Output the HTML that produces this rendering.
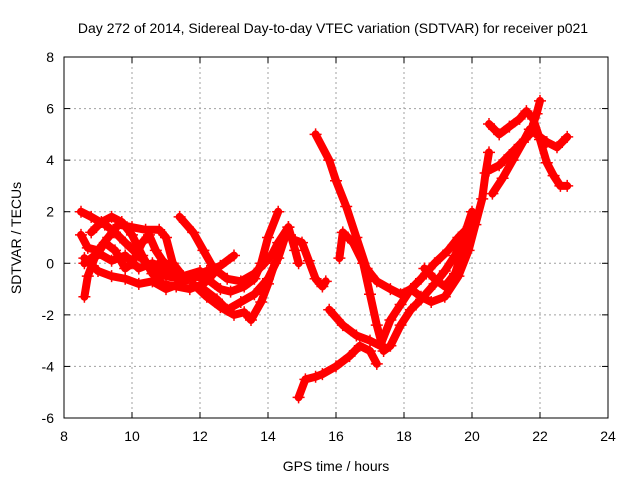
<!DOCTYPE html>
<html><head><meta charset="utf-8"><style>
body{margin:0;background:#fff}
svg{display:block;font-family:"Liberation Sans",sans-serif}
</style></head><body>
<svg id="chart" width="640" height="480">
<text x="333" y="33" text-anchor="middle" font-size="14">Day 272 of 2014, Sidereal Day-to-day VTEC variation (SDTVAR) for receiver p021</text>
<text x="336" y="471" text-anchor="middle" font-size="14">GPS time / hours</text>
<text transform="translate(21,238) rotate(-90)" text-anchor="middle" font-size="14">SDTVAR / TECUs</text>
<g id="grid"></g><g id="ticks"></g><g id="series"></g>
<rect x="64" y="57" width="544" height="361" fill="none" stroke="#000" stroke-width="1"/>
</svg>
<script>
const xTicks=[8,10,12,14,16,18,20,22,24];
const yTicks=[-6,-4,-2,0,2,4,6,8];
const T1=[[15.4,5.0],[15.8,4.0],[16.0,3.2],[16.3,2.2],[16.6,1.0],[16.9,-0.2],[17.2,-0.7],[17.6,-1.0],[17.9,-1.2],[18.2,-1.0],[18.5,-1.3],[18.8,-1.5],[19.2,-1.3],[19.6,-0.5],[19.9,0.5],[20.1,1.5],[20.3,2.5],[20.4,3.5],[20.5,4.3]];
const T2=[[16.1,0.2],[16.2,1.2],[16.5,0.8],[16.8,0.0],[17.0,-1.2],[17.2,-2.4],[17.4,-3.4],[17.6,-3.2],[17.9,-2.4],[18.2,-1.8],[18.5,-1.4],[18.9,-0.8],[19.2,-0.3],[19.5,0.3],[19.8,1.2],[20.0,2.0]];
const T3=[[15.8,-1.8],[16.2,-2.4],[16.6,-2.8],[17.0,-3.0],[17.3,-3.2],[17.6,-2.2],[17.9,-1.6],[18.2,-1.0],[18.5,-0.6],[18.9,0.0],[19.3,0.5],[19.6,1.0],[19.9,1.4]];
const T4=[[14.9,-5.2],[15.1,-4.5],[15.4,-4.4],[15.6,-4.3],[16.0,-4.0],[16.4,-3.6],[16.7,-3.2],[17.0,-3.4],[17.2,-3.9]];
const T5=[[20.5,3.6],[20.8,3.8],[21.1,4.2],[21.4,4.6],[21.7,5.0],[21.9,5.8],[22.0,6.3]];
const T6=[[20.6,2.7],[20.9,3.3],[21.2,4.0],[21.5,4.7],[21.7,5.2],[22.0,4.9],[22.2,4.7],[22.5,4.5],[22.8,4.9]];
const T7=[[20.5,5.4],[20.8,5.0],[21.1,5.3],[21.4,5.6],[21.6,5.9],[21.8,5.6],[22.0,4.8],[22.2,3.9],[22.4,3.4],[22.6,3.0],[22.8,3.0]];
const T8=[[14.8,0.9],[15.0,0.8],[15.2,0.1],[15.4,-0.6],[15.6,-0.9],[15.7,-0.7]];
const T9=[[18.6,-0.2],[18.9,-0.6],[19.2,-0.9],[19.5,-0.4],[19.7,0.4],[19.9,1.0],[20.1,1.8]];
const L1=[[8.5,2.0],[8.8,1.8],[9.2,1.5],[9.5,1.2],[9.8,0.8],[10.2,0.3],[10.6,-0.2],[11.0,-0.5],[11.4,-0.6],[11.8,-0.5],[12.2,-0.3],[12.6,-0.1],[13.0,0.3]];
const L2=[[8.6,0.2],[9.0,-0.3],[9.4,-0.5],[9.8,-0.6],[10.2,-0.8],[10.6,-0.7],[11.0,-1.0],[11.4,-0.8],[11.8,-0.5],[12.2,-0.6],[12.6,-1.0],[12.9,-1.1],[13.3,-0.9],[13.6,-0.6],[13.8,0.0],[14.0,1.0],[14.3,2.0]];
const L3=[[8.5,1.1],[8.7,0.6],[9.0,0.5],[9.3,1.0],[9.6,1.5],[10.0,1.4],[10.4,1.3],[10.8,1.3],[11.0,1.0],[11.2,0.0],[11.5,-0.5],[11.8,-0.6]];
const L4=[[11.4,1.8],[11.8,1.2],[12.1,0.5],[12.4,-0.2],[12.8,-0.6],[13.2,-0.7],[13.6,-0.4],[13.9,0.0],[14.1,0.3],[14.3,0.8],[14.6,1.4],[14.8,0.5],[14.9,0.0]];
const L5=[[12.1,-1.0],[12.5,-1.4],[12.8,-1.8],[13.2,-1.5],[13.6,-1.2],[14.0,-0.6],[14.3,0.2],[14.5,1.0],[14.6,1.4]];
const L6=[[11.8,-0.8],[12.2,-1.3],[12.6,-1.7],[13.0,-2.0],[13.3,-1.9],[13.5,-2.2],[13.8,-1.5],[14.0,-0.8],[14.2,0.0]];
const L7=[[8.6,-1.3],[8.7,-0.5],[8.9,0.2],[9.2,0.8],[9.5,0.5],[9.8,-0.2],[10.0,0.0],[10.3,0.8],[10.5,1.1],[10.7,0.5],[10.9,0.1],[11.2,-0.3]];
const L8=[[8.6,0.0],[9.0,0.4],[9.4,0.1],[9.8,0.3],[10.2,-0.2],[10.6,0.0],[11.0,-0.2],[11.5,-0.5],[12.0,-0.3]];
const L9=[[8.8,1.2],[9.1,1.6],[9.4,1.8],[9.7,1.6],[10.0,1.1],[10.3,0.3],[10.6,-0.4],[10.9,-0.8],[11.3,-0.9],[11.7,-1.0],[12.1,-0.8],[12.4,-0.4]];
const tracks=[T1,T2,T3,T4,T5,T6,T7,T8,T9,L1,L2,L3,L4,L5,L6,L7,L8,L9];
const NS='http://www.w3.org/2000/svg';
const X0=64,X1=608,Y0=418,Y1=57;
const sx=h=>X0+(h-8)/(24-8)*(X1-X0);
const sy=v=>Y0-(v+6)/(8+6)*(Y0-Y1);
const grid=document.getElementById('grid'),ticks=document.getElementById('ticks'),ser=document.getElementById('series');
function mk(tag,at,parent){const e=document.createElementNS(NS,tag);for(const k in at)e.setAttribute(k,at[k]);parent.appendChild(e);return e;}
xTicks.forEach(t=>{const x=sx(t);
 if(t>8&&t<24){const g=mk('line',{x1:x,x2:x,y1:Y1,y2:Y0,stroke:'#a0a0a0','stroke-dasharray':'2,3'},grid);
 
 }
 mk('line',{x1:x,x2:x,y1:Y0,y2:Y0-6,stroke:'#000'},ticks);mk('line',{x1:x,x2:x,y1:Y1,y2:Y1+6,stroke:'#000'},ticks);
 const l=mk('text',{x:x,y:Y0+23,'text-anchor':'middle','font-size':14},ticks);l.textContent=t;
 
 });
yTicks.forEach(t=>{const y=sy(t);
 if(t>-6&&t<8){const g=mk('line',{x1:X0,x2:X1,y1:y,y2:y,stroke:'#a0a0a0','stroke-dasharray':'2,3'},grid);
 
 }
 mk('line',{x1:X0,x2:X0+6,y1:y,y2:y,stroke:'#000'},ticks);mk('line',{x1:X1,x2:X1-6,y1:y,y2:y,stroke:'#000'},ticks);
 const l=mk('text',{x:X0-10,y:y+5,'text-anchor':'end','font-size':14},ticks);l.textContent=t;
 
 });
tracks.forEach(tr=>{
 const p=mk('polyline',{points:tr.map(d=>sx(d[0])+','+sy(d[1])).join(' '),fill:'none',stroke:'#ff0000','stroke-width':8,'stroke-linejoin':'round','stroke-linecap':'round'},ser);
 
 
 tr.forEach(d=>{const x=sx(d[0]),y=sy(d[1]);
  const m=mk('path',{d:`M${x-6},${y}H${x+6}M${x},${y-6}V${y+6}`,stroke:'#ff0000','stroke-width':1.5},ser);
  
  });
});
</script>
</body></html>
